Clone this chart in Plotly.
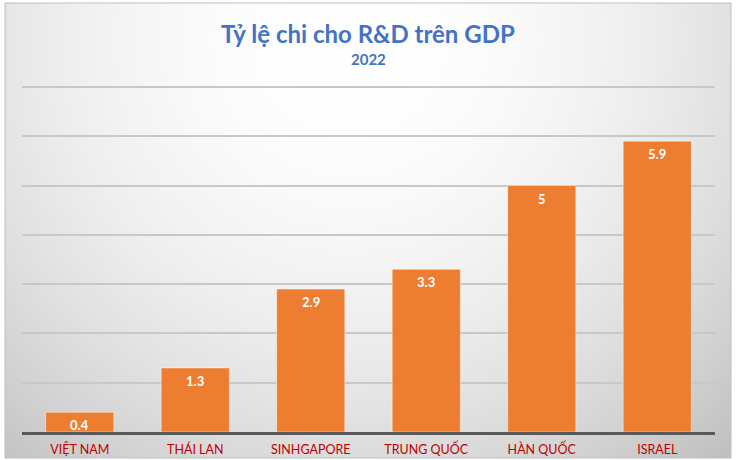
import plotly.graph_objects as go
import numpy as np
import zlib, struct, base64

categories = ["VIỆT NAM", "THÁI LAN", "SINHGAPORE", "TRUNG QUỐC", "HÀN QUỐC", "ISRAEL"]
values = [0.4, 1.3, 2.9, 3.3, 5, 5.9]
labels = ["0.4", "1.3", "2.9", "3.3", "5", "5.9"]

W, H = 736, 460
ML, MR, MT, MB = 22, 21, 82, 28
PW, PH = W - ML - MR, H - MT - MB

# radial gradient background as PNG
iw, ih = 368, 230
ys, xs = np.mgrid[0:ih, 0:iw]
px = (xs + 0.5) * (726 / iw) + 5
py = (ys + 0.5) * (455 / ih) + 3
d2 = (px - 350) ** 2 + (py - 40) ** 2
v = np.clip(255 - 2.0e-4 * d2, 180, 255).astype(np.uint8)
rgb = np.stack([v, v, v], axis=-1)
raw = b"".join(b"\x00" + rgb[r].tobytes() for r in range(ih))
def chunk(t, data):
    c = struct.pack(">I", len(data)) + t + data
    return c + struct.pack(">I", zlib.crc32(t + data) & 0xffffffff)
png = b"\x89PNG\r\n\x1a\n" + chunk(b"IHDR", struct.pack(">IIBBBBB", iw, ih, 8, 2, 0, 0, 0)) + \
      chunk(b"IDAT", zlib.compress(raw, 9)) + chunk(b"IEND", b"")
src = "data:image/png;base64," + base64.b64encode(png).decode()

FONT = "Lato"

fig = go.Figure(go.Bar(
    x=categories, y=values,
    marker=dict(color="#ED7D31", line=dict(color="rgba(255,255,255,0.45)", width=1)),
    cliponaxis=False,
))

for c, v_, t in zip(categories, values, labels):
    fig.add_annotation(x=c, y=v_, text=f"<b>{t}</b>", showarrow=False,
                       yanchor="middle", yshift=-13,
                       font=dict(family=FONT, size=13, color="white"))

def px2x(p):
    return (p - ML) / PW
def px2y(p):
    return (H - MB - p) / PH

fig.add_layout_image(dict(
    source=src, xref="paper", yref="paper",
    x=px2x(5), y=px2y(3), sizex=(726) / PW, sizey=(455) / PH,
    xanchor="left", yanchor="top", sizing="stretch", layer="below",
))
fig.add_shape(type="rect", xref="paper", yref="paper",
              x0=px2x(5), x1=px2x(731), y0=px2y(458), y1=px2y(3),
              line=dict(color="#bfbfbf", width=1), layer="below")

fig.add_annotation(text="<b>Tỷ lệ chi cho R&D trên GDP</b>", xref="paper", yref="paper",
                   x=px2x(368), y=px2y(33), showarrow=False, xanchor="center", yanchor="middle",
                   font=dict(family=FONT, size=24, color="#4472C4"))
fig.add_annotation(text="<b>2022</b>", xref="paper", yref="paper",
                   x=px2x(368), y=px2y(59), showarrow=False, xanchor="center", yanchor="middle",
                   font=dict(family=FONT, size=15, color="#4472C4"))

fig.update_layout(
    width=W, height=H,
    margin=dict(l=ML, r=MR, t=MT, b=MB),
    paper_bgcolor="white", plot_bgcolor="rgba(0,0,0,0)",
    bargap=0.41, showlegend=False,
    xaxis=dict(showgrid=False, showline=True, linecolor="#595959", linewidth=2.5,
               ticks="", ticklabelstandoff=4, automargin=False,
               tickfont=dict(family=FONT, size=12.5, color="#C00000"),
               fixedrange=True),
    yaxis=dict(range=[0, 7.1], tickvals=[1, 2, 3, 4, 5, 6, 7], showgrid=True,
               gridcolor="#c8c8c8", gridwidth=1.5, automargin=False,
               showticklabels=False, zeroline=False, ticks="", fixedrange=True),
)

fig.write_html("out.html")
